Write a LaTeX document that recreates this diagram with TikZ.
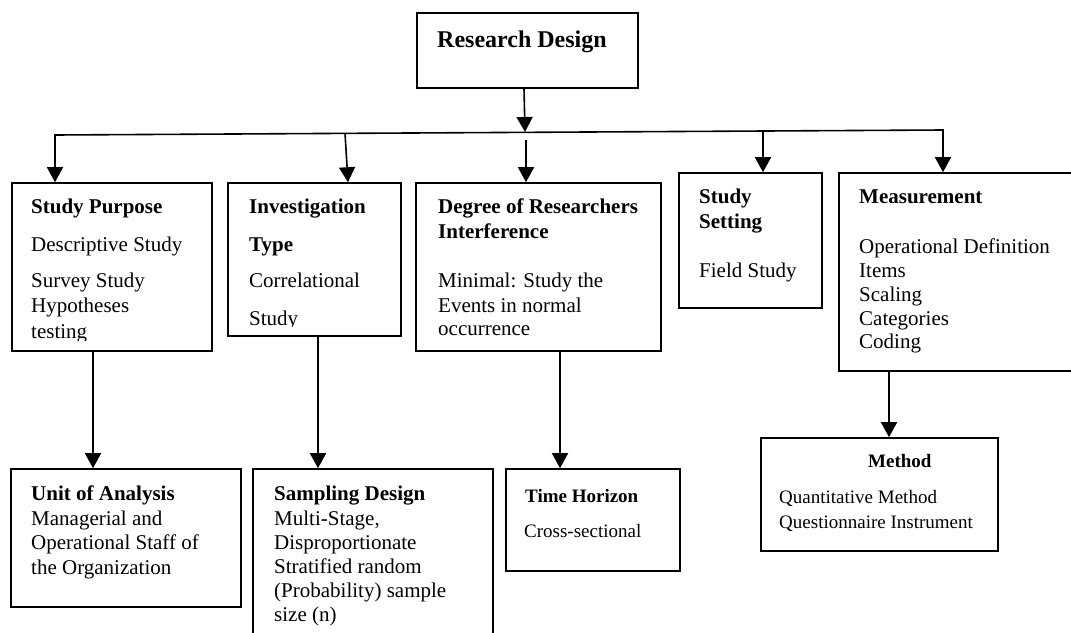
\documentclass[tikz,border=0pt]{standalone}
\usepackage{fontspec}
\setmainfont{Liberation Serif}
\usetikzlibrary{arrows.meta}
\tikzset{
 box/.style={draw, line width=1.6pt, inner sep=0pt, rectangle},
 lnk/.style={line width=1.6pt},
 arr/.style={line width=1.6pt, -{Triangle[length=15pt,width=16pt]}},
 txt/.style={anchor=base west, inner sep=0pt, font=\fontsize{21}{24}\selectfont},
 btxt/.style={anchor=base west, inner sep=0pt, font=\fontsize{21}{24}\selectfont\bfseries},
 stxt/.style={anchor=base west, inner sep=0pt, font=\fontsize{19}{22}\selectfont},
 sbtxt/.style={anchor=base west, inner sep=0pt, font=\fontsize{19}{22}\selectfont\bfseries},
 ttxt/.style={anchor=base west, inner sep=0pt, font=\fontsize{24}{28}\selectfont\bfseries},
}
\begin{document}
\begin{tikzpicture}[x=1pt,y=-1pt]
\clip (0,0) rectangle (1071,632);
\fill[white] (0,0) rectangle (1071,632);

% boxes
\node[box, minimum width=221pt, minimum height=75pt] (rd) at (527.5,50.5) {};
\node[box, minimum width=200pt, minimum height=168pt] (sp) at (112,267) {};
\node[box, minimum width=173pt, minimum height=153pt] (it) at (314.5,259.5) {};
\node[box, minimum width=245pt, minimum height=168pt] (dr) at (538.5,267) {};
\node[box, minimum width=143pt, minimum height=135pt] (ss) at (750.5,240.5) {};
\node[box, minimum width=246pt, minimum height=198pt] (ms) at (962,272) {};
\node[box, minimum width=230pt, minimum height=138pt] (ua) at (126,538) {};
\node[box, minimum width=240pt, minimum height=181pt] (sd) at (373,559.5) {};
\node[box, minimum width=174pt, minimum height=102pt] (th) at (593,520) {};
\node[box, minimum width=237pt, minimum height=113pt] (me) at (879.5,494.5) {};

% texts
\node[ttxt] (t0) at (437,47) {Research Design};

\node[btxt] (sp1) at (31,213) {Study Purpose};
\node[txt] (sp2) at (31,251) {Descriptive Study};
\node[txt] (sp3) at (31,287) {Survey Study};
\node[txt] (sp4) at (31,312) {Hypotheses};
\begin{scope}
\clip (20,300) rectangle (205,340);
\node[txt] (sp5) at (31,338) {testing};
\end{scope}

\node[btxt] (it1) at (249,213) {Investigation};
\node[btxt] (it2) at (249,251) {Type};
\node[txt] (it3) at (249,287) {Correlational};
\begin{scope}
\clip (235,295) rectangle (395,326);
\node[txt] (it4) at (249,325) {Study};
\end{scope}

\node[btxt] (dr1) at (438,213) {Degree of Researchers};
\node[btxt] (dr2) at (438,238) {Interference};
\node[txt] (dr3) at (438,287) {Minimal: Study the};
\node[txt] (dr4) at (438,312) {Events in normal};
\begin{scope}
\clip (425,318) rectangle (655,337);
\node[txt] (dr5) at (438,335) {occurrence};
\end{scope}

\node[btxt] (ss1) at (699,203) {Study};
\node[btxt] (ss2) at (699,228) {Setting};
\node[txt] (ss3) at (699,277) {Field Study};

\node[btxt] (ms1) at (859,203) {Measurement};
\node[txt] (ms2) at (859,253) {Operational Definition};
\node[txt] (ms3) at (859,277) {Items};
\node[txt] (ms4) at (859,301) {Scaling};
\node[txt] (ms5) at (859,325) {Categories};
\node[txt] (ms6) at (859,348) {Coding};

\node[btxt] (ua1) at (31,500) {Unit of Analysis};
\node[txt] (ua2) at (31,525) {Managerial and};
\node[txt] (ua3) at (31,549) {Operational Staff of};
\node[txt] (ua4) at (31,574) {the Organization};

\node[btxt] (sd1) at (274,500) {Sampling Design};
\node[txt] (sd2) at (274,525) {Multi-Stage,};
\node[txt] (sd3) at (274,549) {Disproportionate};
\node[txt] (sd4) at (274,573) {Stratified random};
\node[txt] (sd5) at (274,597) {(Probability) sample};
\node[txt] (sd6) at (274,621) {size (n)};

\node[sbtxt] (th1) at (525,502) {Time Horizon};
\node[stxt] (th2) at (524,537) {Cross-sectional};

\node[sbtxt] (me1) at (868,467) {Method};
\node[stxt] (me2) at (779,503) {Quantitative Method};
\node[stxt] (me3) at (779,528) {Questionnaire Instrument};

% connectors
\coordinate (rdx) at (524,0);
\coordinate (busM) at (525,132);
\draw[arr] (rd.south -| rdx) -- (busM);

\coordinate (busL) at (55,135);
\coordinate (busR) at (943,130);
\draw[lnk, line join=miter, {Triangle[length=15pt,width=16pt]}-{Triangle[length=15pt,width=16pt]}]
  (sp.north -| busL) -- (busL) -- (busR) -- (ms.north -| busR);

\coordinate (bI) at (345,133);
\coordinate (tI) at (348,0);
\draw[arr] (bI) -- (it.north -| tI);
\coordinate (bD) at (526,140);
\draw[arr] (bD) -- (dr.north -| bD);
\coordinate (bS) at (763,131);
\draw[arr] (bS) -- (ss.north -| bS);

\coordinate (d1) at (93,0);
\draw[arr] (sp.south -| d1) -- (ua.north -| d1);
\coordinate (d2) at (318,0);
\draw[arr] (it.south -| d2) -- (sd.north -| d2);
\coordinate (d3) at (560,0);
\draw[arr] (dr.south -| d3) -- (th.north -| d3);
\coordinate (d4) at (889,0);
\draw[arr] (ms.south -| d4) -- (me.north -| d4);
\end{tikzpicture}
\end{document}
